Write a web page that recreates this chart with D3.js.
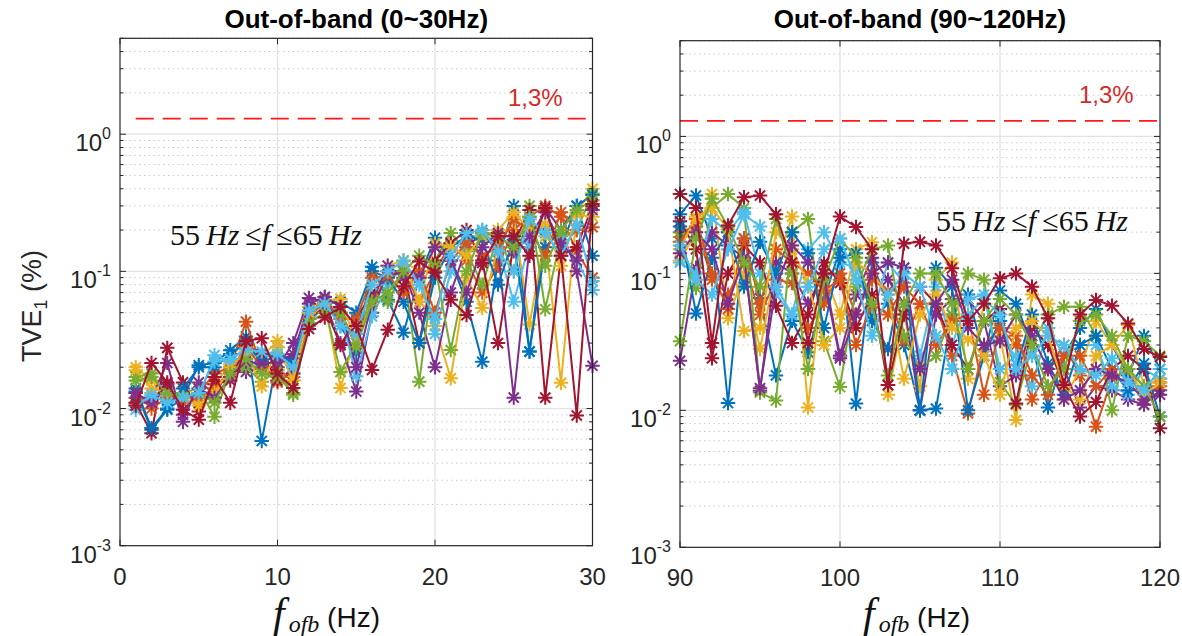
<!DOCTYPE html>
<html>
<head>
<meta charset="utf-8">
<script src="https://cdn.jsdelivr.net/npm/d3@7"></script>
<style>
  html, body { margin: 0; padding: 0; background: #fff; }
  svg { display: block; }
</style>
</head>
<body>
<svg id="chart" width="1182" height="636"></svg>
<script>
// ---------------- DATA ----------------
const seriesColors = ["#0072BD","#D95319","#EDB120","#7E2F8E","#77AC30","#4DBEEE","#A2142F",
                      "#0072BD","#D95319","#EDB120","#7E2F8E","#77AC30","#4DBEEE","#A2142F"];

const freqLow = d3.range(1, 31);      // 1..30 Hz
const freqHigh = d3.range(90, 121);   // 90..120 Hz

const lowS0  = [0.0133,0.007,0.0098,0.012,0.0207,0.0215,0.0266,0.0335,0.0058,0.024,0.022,0.048,0.065,0.04,0.0255,0.108,0.062,0.0357,0.09,0.176,0.12,0.06,0.0219,0.12,0.30,0.026,0.2,0.15,0.3,0.13];
const lowS1  = [0.011,0.011,0.014,0.012,0.013,0.018,0.02,0.043,0.02,0.0155,0.02,0.05,0.06,0.05,0.03,0.06,0.09,0.1,0.06,0.1,0.16,0.12,0.07,0.11,0.2,0.25,0.3,0.25,0.14,0.09];
const lowS2  = [0.02,0.016,0.013,0.013,0.011,0.015,0.021,0.025,0.024,0.031,0.016,0.055,0.06,0.0141,0.035,0.08,0.1,0.118,0.1,0.04,0.0166,0.09,0.054,0.15,0.25,0.041,0.18,0.0154,0.27,0.4];
const lowS3  = [0.012,0.012,0.0215,0.008,0.0155,0.013,0.02,0.0185,0.02,0.02,0.03,0.064,0.06,0.03,0.0133,0.05,0.1,0.1,0.05,0.02,0.07,0.15,0.19,0.14,0.012,0.15,0.29,0.2,0.1,0.0205];
const lowS4  = [0.017,0.018,0.012,0.013,0.014,0.0087,0.019,0.02,0.0157,0.019,0.0126,0.045,0.055,0.0185,0.03,0.07,0.06,0.1,0.0157,0.12,0.19,0.14,0.08,0.18,0.1,0.3,0.053,0.18,0.2,0.37];
const lowS5  = [0.0098,0.013,0.012,0.011,0.012,0.0245,0.022,0.028,0.022,0.028,0.018,0.04,0.06,0.05,0.0172,0.047,0.08,0.11,0.09,0.035,0.1,0.16,0.2,0.15,0.06,0.16,0.22,0.17,0.12,0.073];
const lowS6  = [0.011,0.0066,0.0277,0.0155,0.0095,0.015,0.016,0.029,0.025,0.016,0.018,0.045,0.055,0.029,0.045,0.07,0.092,0.1,0.03,0.12,0.16,0.2,0.12,0.03,0.16,0.28,0.012,0.13,0.15,0.3];
const lowS7  = [0.014,0.0072,0.01,0.014,0.02,0.02,0.025,0.03,0.022,0.024,0.023,0.05,0.058,0.06,0.05,0.1,0.09,0.06,0.03,0.09,0.15,0.18,0.17,0.08,0.17,0.026,0.15,0.2,0.3,0.36];
const lowS8  = [0.013,0.01,0.012,0.011,0.012,0.014,0.019,0.028,0.02,0.017,0.017,0.045,0.062,0.045,0.045,0.09,0.093,0.07,0.1,0.05,0.12,0.16,0.13,0.15,0.24,0.2,0.13,0.27,0.2,0.21];
const lowS9  = [0.019,0.014,0.013,0.012,0.0105,0.013,0.02,0.026,0.0145,0.028,0.016,0.05,0.06,0.063,0.03,0.06,0.11,0.12,0.06,0.16,0.15,0.13,0.18,0.2,0.27,0.2,0.22,0.11,0.26,0.25];
const lowS10 = [0.013,0.011,0.015,0.009,0.014,0.012,0.017,0.022,0.021,0.022,0.025,0.058,0.065,0.055,0.02,0.06,0.11,0.09,0.09,0.15,0.12,0.07,0.15,0.19,0.14,0.18,0.27,0.16,0.12,0.28];
const lowS11 = [0.016,0.017,0.013,0.012,0.013,0.011,0.018,0.023,0.018,0.017,0.013,0.042,0.05,0.05,0.028,0.06,0.07,0.1,0.13,0.11,0.0267,0.1,0.19,0.18,0.15,0.25,0.11,0.2,0.28,0.33];
const lowS12 = [0.0105,0.0125,0.011,0.012,0.013,0.022,0.023,0.027,0.026,0.025,0.02,0.052,0.058,0.04,0.035,0.08,0.1,0.12,0.08,0.045,0.13,0.19,0.2,0.14,0.1,0.24,0.19,0.13,0.22,0.085];
const lowS13 = [0.0105,0.0215,0.0155,0.0098,0.0083,0.017,0.011,0.031,0.0325,0.018,0.0141,0.038,0.046,0.055,0.04,0.0191,0.0375,0.078,0.118,0.098,0.062,0.048,0.115,0.18,0.18,0.13,0.29,0.13,0.0089,0.31];

const highS0  = [0.27,0.37,0.18,0.0113,0.18,0.066,0.018,0.045,0.0266,0.065,0.15,0.0112,0.12,0.06,0.03,0.01,0.0103,0.05,0.07,0.025,0.075,0.06,0.03,0.0105,0.025,0.04,0.055,0.03,0.018,0.035,0.02];
const highS1  = [0.2,0.22,0.09,0.07,0.12,0.05,0.09,0.085,0.04,0.06,0.1,0.05,0.09,0.075,0.032,0.06,0.06,0.025,0.0095,0.03,0.04,0.03,0.012,0.02,0.03,0.018,0.0076,0.017,0.02,0.011,0.016];
const highS2  = [0.124,0.2,0.38,0.047,0.1,0.028,0.11,0.26,0.0105,0.1,0.05,0.15,0.169,0.013,0.05,0.015,0.09,0.12,0.017,0.06,0.035,0.0085,0.07,0.06,0.012,0.02,0.045,0.03,0.042,0.015,0.017];
const highS3  = [0.023,0.11,0.2,0.16,0.13,0.0139,0.12,0.1,0.06,0.1,0.025,0.07,0.13,0.09,0.06,0.01,0.05,0.065,0.065,0.045,0.015,0.018,0.04,0.03,0.02,0.0105,0.015,0.014,0.012,0.011,0.014];
const highS4  = [0.184,0.078,0.3,0.38,0.3,0.0135,0.0118,0.2,0.25,0.032,0.0148,0.08,0.15,0.16,0.035,0.02,0.025,0.05,0.1,0.09,0.016,0.011,0.03,0.05,0.057,0.057,0.035,0.01,0.035,0.032,0.025];
const highS5  = [0.12,0.1,0.25,0.2,0.28,0.1,0.07,0.05,0.15,0.2,0.12,0.11,0.05,0.12,0.085,0.025,0.08,0.03,0.065,0.07,0.02,0.025,0.015,0.04,0.025,0.03,0.03,0.015,0.013,0.02,0.017];
const highS6  = [0.24,0.15,0.024,0.1,0.16,0.12,0.058,0.031,0.05,0.12,0.085,0.04,0.07,0.0153,0.05,0.08,0.06,0.03,0.02,0.045,0.055,0.0112,0.04,0.03,0.015,0.009,0.0115,0.02,0.025,0.02,0.0074];
const highS7  = [0.22,0.051,0.13,0.2,0.08,0.17,0.1,0.2,0.14,0.04,0.13,0.14,0.045,0.028,0.11,0.01,0.11,0.08,0.01,0.025,0.045,0.02,0.05,0.022,0.013,0.03,0.035,0.02,0.014,0.022,0.009];
const highS8  = [0.17,0.25,0.1,0.055,0.18,0.06,0.15,0.12,0.1,0.075,0.09,0.03,0.06,0.05,0.08,0.06,0.03,0.045,0.05,0.013,0.04,0.035,0.018,0.013,0.025,0.025,0.015,0.02,0.02,0.015,0.015];
const highS9  = [0.15,0.26,0.3,0.21,0.038,0.04,0.2,0.15,0.085,0.03,0.04,0.12,0.1,0.07,0.017,0.05,0.07,0.04,0.033,0.025,0.013,0.04,0.045,0.035,0.015,0.012,0.025,0.03,0.02,0.013,0.016];
const highS10 = [0.14,0.2,0.15,0.06,0.13,0.0145,0.08,0.16,0.12,0.09,0.024,0.05,0.1,0.12,0.11,0.02,0.06,0.09,0.04,0.03,0.032,0.05,0.035,0.02,0.012,0.014,0.02,0.018,0.016,0.012,0.013];
const highS11 = [0.032,0.18,0.35,0.22,0.12,0.08,0.25,0.1,0.02,0.09,0.18,0.13,0.06,0.018,0.06,0.1,0.1,0.06,0.02,0.045,0.065,0.05,0.03,0.015,0.02,0.045,0.05,0.035,0.02,0.015,0.009];
const highS12 = [0.16,0.09,0.07,0.15,0.27,0.22,0.08,0.05,0.08,0.15,0.18,0.09,0.035,0.07,0.1,0.08,0.035,0.02,0.05,0.065,0.05,0.02,0.025,0.035,0.03,0.02,0.018,0.024,0.016,0.014,0.02];
const highS13 = [0.38,0.30,0.031,0.224,0.36,0.37,0.27,0.12,0.031,0.1,0.26,0.218,0.15,0.0153,0.165,0.17,0.16,0.109,0.045,0.06,0.092,0.1,0.08,0.047,0.0153,0.05,0.064,0.058,0.043,0.028,0.0245];

const lowSeries  = [lowS0,lowS1,lowS2,lowS3,lowS4,lowS5,lowS6,lowS7,lowS8,lowS9,lowS10,lowS11,lowS12,lowS13];
const highSeries = [highS0,highS1,highS2,highS3,highS4,highS5,highS6,highS7,highS8,highS9,highS10,highS11,highS12,highS13];

const limitValue = 1.3;
const limitLabel = "1,3%";
const titles = ["Out-of-band (0~30Hz)", "Out-of-band (90~120Hz)"];
const xTicksLow = [0, 10, 20, 30];
const xTicksHigh = [90, 100, 110, 120];
const yTickExps = [-3, -2, -1, 0];

// ---------------- LAYOUT ----------------
const panels = [
  { title: titles[0], xDomain: [0, 30], xTicks: xTicksLow, left: 120, right: 592.5, top: 38.3, bottom: 545.7,
    freqs: freqLow, series: lowSeries, limitFrom: 1,
    note: { x: 170, y: 245 }, limitText: { x: 508, y: 106 }, xlab: 273 },
  { title: titles[1], xDomain: [90, 120], xTicks: xTicksHigh, left: 680, right: 1160, top: 40.7, bottom: 547.3,
    freqs: freqHigh, series: highSeries, limitFrom: 90,
    note: { x: 936, y: 231 }, limitText: { x: 1079, y: 103 }, xlab: 863 }
];

const svg = d3.select("#chart");
const sans = "'Liberation Sans', Arial, Helvetica, sans-serif";
const serif = "'Liberation Serif', 'Times New Roman', serif";
const axisColor = "#262626";

function asteriskPath(r) {
  const d = r * 0.7071;
  return `M${-r},0H${r}M0,${-r}V${r}M${-d},${-d}L${d},${d}M${-d},${d}L${d},${-d}`;
}
const star = asteriskPath(7.2);

panels.forEach(p => {
  const x = d3.scaleLinear().domain(p.xDomain).range([p.left, p.right]);
  const y = d3.scaleLog().domain([1e-3, 5]).range([p.bottom, p.top]);
  const g = svg.append("g");

  // minor grid (dotted)
  const minors = [];
  for (let e = -3; e <= 0; e++) for (let m = 2; m <= 9; m++) { const v = m * Math.pow(10, e); if (v <= 5) minors.push(v); }
  g.append("g").selectAll("line").data(minors).join("line")
    .attr("x1", p.left).attr("x2", p.right)
    .attr("y1", d => y(d)).attr("y2", d => y(d))
    .attr("stroke", "#c4c4c4").attr("stroke-width", 1).attr("stroke-dasharray", "1.3,3.5");
  // major grid
  g.append("g").selectAll("line").data(yTickExps.slice(1)).join("line")
    .attr("x1", p.left).attr("x2", p.right)
    .attr("y1", d => y(Math.pow(10, d))).attr("y2", d => y(Math.pow(10, d)))
    .attr("stroke", "#e3e3e3").attr("stroke-width", 1.2);
  g.append("g").selectAll("line").data(p.xTicks.slice(1, -1)).join("line")
    .attr("x1", d => x(d)).attr("x2", d => x(d))
    .attr("y1", p.top).attr("y2", p.bottom)
    .attr("stroke", "#e0e0e0").attr("stroke-width", 1.2);

  // limit line
  g.append("line")
    .attr("x1", x(p.limitFrom)).attr("x2", p.right)
    .attr("y1", y(limitValue)).attr("y2", y(limitValue))
    .attr("stroke", "#ff1a1a").attr("stroke-width", 1.8).attr("stroke-dasharray", "18,9");
  g.append("text").attr("x", p.limitText.x).attr("y", p.limitText.y)
    .attr("font-family", sans).attr("font-size", 24).attr("fill", "#d62a2a").text(limitLabel);

  // series
  const line = d3.line().x(d => x(d[0])).y(d => y(d[1]));
  p.series.forEach((vals, i) => {
    const pts = p.freqs.map((f, k) => [f, vals[k]]);
    const sg = g.append("g");
    sg.append("path").attr("d", line(pts)).attr("fill", "none")
      .attr("stroke", seriesColors[i]).attr("stroke-width", 2).attr("stroke-linejoin", "round");
    sg.selectAll("path.m").data(pts).join("path").attr("class", "m")
      .attr("transform", d => `translate(${x(d[0])},${y(d[1])})`)
      .attr("d", star).attr("fill", "none")
      .attr("stroke", seriesColors[i]).attr("stroke-width", 2);
  });

  // axes box
  g.append("rect").attr("x", p.left).attr("y", p.top)
    .attr("width", p.right - p.left).attr("height", p.bottom - p.top)
    .attr("fill", "none").attr("stroke", axisColor).attr("stroke-width", 1.2);

  // x ticks (inward, bottom and top)
  p.xTicks.forEach(t => {
    g.append("line").attr("x1", x(t)).attr("x2", x(t)).attr("y1", p.bottom).attr("y2", p.bottom - 6).attr("stroke", axisColor);
    g.append("line").attr("x1", x(t)).attr("x2", x(t)).attr("y1", p.top).attr("y2", p.top + 6).attr("stroke", axisColor);
    g.append("text").attr("x", x(t)).attr("y", p.bottom + 39)
      .attr("text-anchor", "middle").attr("font-family", sans).attr("font-size", 24)
      .attr("fill", axisColor).text(t);
  });
  // y ticks
  yTickExps.forEach(e => {
    const yy = y(Math.pow(10, e));
    g.append("line").attr("x1", p.left).attr("x2", p.left + 6).attr("y1", yy).attr("y2", yy).attr("stroke", axisColor);
    g.append("line").attr("x1", p.right).attr("x2", p.right - 6).attr("y1", yy).attr("y2", yy).attr("stroke", axisColor);
    const t = g.append("text").attr("x", p.left - 9).attr("y", yy + 17)
      .attr("text-anchor", "end").attr("font-family", sans).attr("font-size", 24).attr("fill", axisColor);
    t.append("tspan").text("10");
    t.append("tspan").attr("font-size", 16).attr("dy", -12).text(e === 0 ? "0" : "-" + Math.abs(e));
  });
  minors.forEach(v => {
    const yy = y(v);
    g.append("line").attr("x1", p.left).attr("x2", p.left + 3.5).attr("y1", yy).attr("y2", yy).attr("stroke", axisColor);
    g.append("line").attr("x1", p.right).attr("x2", p.right - 3.5).attr("y1", yy).attr("y2", yy).attr("stroke", axisColor);
  });

  // title
  g.append("text").attr("x", (p.left + p.right) / 2).attr("y", 28)
    .attr("text-anchor", "middle").attr("font-family", sans).attr("font-weight", "bold")
    .attr("font-size", 26).attr("fill", "#000").text(p.title);

  // annotation
  const n = g.append("text").attr("x", p.note.x).attr("y", p.note.y)
    .attr("font-family", serif).attr("font-size", 30).attr("fill", "#111");
  n.append("tspan").text("55\u2009");
  n.append("tspan").attr("font-style", "italic").text("Hz");
  n.append("tspan").text("\u2009\u2264");
  n.append("tspan").attr("font-style", "italic").text("f");
  n.append("tspan").text("\u2009\u226465\u2009");
  n.append("tspan").attr("font-style", "italic").text("Hz");

  // x label
  const xl = g.append("text").attr("x", p.xlab).attr("y", 627).attr("fill", "#111");
  xl.append("tspan").attr("font-family", serif).attr("font-style", "italic").attr("font-size", 42).text("f");
  xl.append("tspan").attr("font-family", serif).attr("font-style", "italic").attr("font-size", 24).attr("dx", 4).attr("dy", 5).text("ofb");
  xl.append("tspan").attr("font-family", sans).attr("font-size", 28).attr("dy", -5).text(" (Hz)");
});

// y label
const yl = svg.append("text").attr("transform", "translate(41,306) rotate(-90)")
  .attr("text-anchor", "middle").attr("font-family", sans).attr("font-size", 27).attr("fill", axisColor);
yl.append("tspan").text("TVE");
yl.append("tspan").attr("font-size", 18).attr("dy", 6).text("1");
yl.append("tspan").attr("dy", -6).text(" (%)");
</script>
</body>
</html>
